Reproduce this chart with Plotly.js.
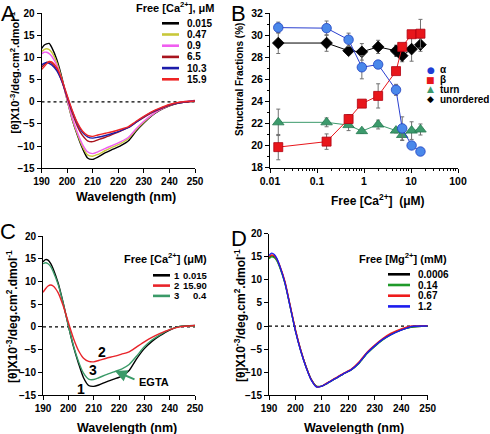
<!DOCTYPE html>
<html><head><meta charset="utf-8">
<script src="https://cdn.plot.ly/plotly-3.0.1.min.js"></script>
<style>html,body{margin:0;padding:0;background:#fff}#c{width:490px;height:434px}</style>
</head><body><div id="c"></div>
<script>
// ---------- DATA ----------
const wl = [190,191,192,193,194,196,198,200,202,204,206,208,210,212,215,218,221,224,227,230,233,236,240,244,250];

// Panel A: free [Ca2+] (uM)
const aLabels = ['0.015','0.47','0.9','6.5','10.3','15.9'];
const aCa0015 = [12.0,12.8,13.1,13.2,12.3,9.5,5.4,0.5,-4.0,-7.5,-10.5,-12.7,-13.0,-12.5,-11.5,-10.7,-9.9,-8.8,-6.6,-4.8,-3.2,-2.0,-0.9,-0.2,0.2];
const aCa047  = [11.3,11.8,12.0,11.8,11.2,8.8,5.0,0.4,-3.9,-7.3,-10.1,-12.0,-12.3,-11.9,-11.0,-10.2,-9.4,-8.3,-6.3,-4.6,-3.1,-1.9,-0.8,-0.1,0.3];
const aCa09   = [10.8,11.2,11.2,10.9,10.3,8.2,4.8,0.6,-3.6,-6.9,-9.6,-11.3,-11.7,-11.3,-10.5,-9.8,-9.0,-8.0,-6.1,-4.4,-3.0,-1.9,-0.8,-0.1,0.3];
const aCa65   = [7.8,8.4,8.9,9.0,8.7,7.3,4.6,1.0,-2.5,-5.5,-7.6,-8.8,-9.0,-8.6,-8.0,-7.3,-6.6,-5.8,-4.6,-3.5,-2.5,-1.7,-0.8,-0.2,0.2];
const aCa103  = [8.3,8.7,8.9,8.7,8.3,7.0,4.6,1.3,-2.1,-4.9,-6.9,-7.9,-8.2,-8.0,-7.6,-7.1,-6.5,-5.8,-4.6,-3.4,-2.4,-1.6,-0.7,-0.2,0.2];
const aCa159  = [7.3,7.9,8.6,9.1,9.0,7.7,5.0,1.5,-1.9,-4.7,-6.6,-7.6,-7.8,-7.5,-7.1,-6.7,-6.2,-5.6,-4.4,-3.3,-2.3,-1.5,-0.6,-0.1,0.2];

// Panel B: structural fractions (%)
const bConc = [0.015,0.16,0.47,0.9,2.0,4.8,6.5,10.3,15.9];
const bAlpha = [30.7,30.65,29.6,27.1,27.35,25.05,21.55,20.0,19.45];
const bAlphaErr = [0.5,0.65,0.6,1.05,0.2,0.5,1.05,0.2,0.2];
const bBeta = [19.85,20.35,22.4,23.8,24.5,26.75,28.95,30.1,30.15];
const bBetaErr = [1.15,0.7,0.4,0.3,1.1,0.2,0.2,0.2,1.3];
const bTurn = [22.1,22.1,21.85,21.3,21.9,21.35,20.95,21.35,21.45];
const bTurnErr = [1.2,0.4,0.5,0.2,0.4,0.2,0.5,0.8,0.5];
const bUnord = [29.3,29.3,28.6,28.5,28.95,28.6,28.15,28.75,29.15];
const bUnordErr = [0.95,0.75,0.2,0.75,0.6,0.5,0.55,1.1,0.6];
const bLegend = ['\u03b1','\u03b2','turn','unordered'];
const bTickVals = [0.01,0.1,1,10,100];
const bTickText = ['0.01','0.1','1','10','100'];

// Panel C
const cC1 = [14.3,14.8,14.7,14.0,12.8,9.6,5.2,0.3,-4.3,-8.0,-11.2,-12.9,-13.1,-12.8,-12.1,-11.5,-10.9,-9.6,-7.0,-4.8,-3.2,-2.0,-0.7,0.1,0.3];
const cC2 = [7.6,8.4,9.0,9.2,9.0,7.5,4.6,1.0,-2.5,-5.2,-6.9,-7.6,-7.7,-7.4,-6.9,-6.5,-6.0,-5.5,-4.4,-3.3,-2.3,-1.5,-0.6,0.0,0.3];
const cC3 = [13.9,14.1,13.9,13.3,12.2,9.3,5.1,0.3,-4.1,-7.6,-10.2,-11.5,-11.6,-11.2,-10.5,-9.9,-9.3,-8.3,-6.4,-4.4,-2.9,-1.8,-0.6,0.1,0.2];
const cIdx = ['1','2','3'];
const cVals = ['0.015','15.90','0.4'];

// Panel D: free [Mg2+] (mM)
const dLabels = ['0.0006','0.14','0.67','1.2'];
const dMg00006 = [14.8,15.2,15.0,14.3,13.0,9.5,4.3,-1.0,-5.3,-8.8,-11.6,-13.1,-13.0,-12.4,-11.4,-10.4,-9.5,-8.0,-5.9,-4.3,-2.9,-1.8,-0.8,-0.2,0.0];
const dMg014   = [14.6,15.0,14.8,14.1,12.8,9.3,4.2,-1.0,-5.3,-8.8,-11.6,-13.0,-13.0,-12.4,-11.4,-10.4,-9.5,-8.1,-6.0,-4.4,-3.0,-1.9,-0.8,-0.2,0.0];
const dMg067   = [15.0,15.4,15.2,14.5,13.2,9.7,4.5,-0.8,-5.2,-8.8,-11.6,-13.1,-13.0,-12.3,-11.3,-10.3,-9.4,-7.8,-5.7,-4.1,-2.7,-1.6,-0.6,0.0,0.1];
const dMg12    = [15.3,15.8,15.5,14.6,13.1,9.4,4.2,-1.1,-5.4,-8.9,-11.7,-13.2,-13.0,-12.4,-11.4,-10.4,-9.5,-8.0,-5.9,-4.3,-2.9,-1.9,-0.9,-0.1,0.0];

// ---------- STYLE ----------
const W = 490, H = 434;
const FF = '"Liberation Sans", Arial, sans-serif';
const px = (x) => x / W, py = (y) => 1 - y / H;
const aCols = ['#000000','#c8c83a','#f05ef0','#a8141e','#1c1caa','#ee2424'];
const cCols = ['#000000','#e8242a','#3a9a68'];
const dCols = ['#000000','#1f9a2a','#ee1c1c','#1c1cee'];

const traces = [];
const curve = (y, col, xa, ya) => ({x: wl, y: y, type: 'scatter', mode: 'lines', xaxis: xa, yaxis: ya,
  line: {color: col, width: 1.4, shape: 'spline', smoothing: 0.6}, hoverinfo: 'skip'});

[aCa0015, aCa047, aCa09, aCa65, aCa103, aCa159].forEach((s, i) => traces.push(curve(s, aCols[i], 'x', 'y')));

const bSeries = [
  {y: bTurn, e: bTurnErr, sym: 'triangle-up', fill: '#3c9a6c', ln: '#267a50', lc: '#3c9a6c', sz: 10},
  {y: bUnord, e: bUnordErr, sym: 'diamond', fill: '#000000', ln: '#000000', lc: '#000000', sz: 9},
  {y: bBeta, e: bBetaErr, sym: 'square', fill: '#e8161b', ln: '#b00010', lc: '#e8161b', sz: 9},
  {y: bAlpha, e: bAlphaErr, sym: 'circle', fill: '#4a88ea', ln: '#2040c0', lc: '#2a3fd0', sz: 9.5}
];
bSeries.forEach(s => traces.push({x: bConc, y: s.y, type: 'scatter', mode: 'lines+markers', xaxis: 'x2', yaxis: 'y2',
  line: {color: s.lc, width: 1}, marker: {symbol: s.sym, size: s.sz, color: s.fill, line: {color: s.ln, width: 0.8}},
  error_y: {type: 'data', array: s.e, visible: true, color: '#707070', thickness: 1, width: 2}, hoverinfo: 'skip', cliponaxis: false}));

[cC1, cC3, cC2].forEach((s, i) => traces.push(curve(s, [cCols[0], cCols[2], cCols[1]][i], 'x3', 'y3')));
[dMg00006, dMg014, dMg067, dMg12].forEach((s, i) => traces.push(curve(s, dCols[i], 'x4', 'y4')));

const tickfont = {family: FF, size: 10, color: '#000', weight: 'bold'};
const ax = (extra) => Object.assign({showline: true, linecolor: '#000', linewidth: 1, ticks: 'outside', ticklen: 4,
  tickwidth: 1, tickcolor: '#000', showgrid: false, zeroline: false, tickfont: tickfont, fixedrange: true}, extra);

const specX = {range: [190, 250], tickvals: [190,200,210,220,230,240,250]};
const specY = {range: [-15, 20], tickvals: [-15,-10,-5,0,5,10,15,20]};

const layout = {
  width: W, height: H, margin: {l: 0, r: 0, t: 0, b: 0}, showlegend: false,
  paper_bgcolor: '#fff', plot_bgcolor: 'rgba(0,0,0,0)', font: {family: FF, color: '#000'},
  xaxis: ax(Object.assign({domain: [px(41.5), px(195)], anchor: 'y'}, specX)),
  yaxis: ax(Object.assign({domain: [py(168.2), py(13.3)], anchor: 'x'}, specY)),
  xaxis2: ax({domain: [px(270), px(458)], anchor: 'y2', type: 'log', range: [-2, 2], tickvals: bTickVals, ticktext: bTickText,
    minor: {ticks: 'outside', ticklen: 2, tickcolor: '#000', dtick: 'D1'}, tickfont: Object.assign({}, tickfont, {size: 10.5})}),
  yaxis2: ax({domain: [py(167.5), py(13.3)], anchor: 'x2', range: [18, 32], dtick: 2,
    minor: {ticks: 'outside', ticklen: 2, tickcolor: '#000', dtick: 1}, tickfont: Object.assign({}, tickfont, {size: 10.5})}),
  xaxis3: ax(Object.assign({domain: [px(43), px(195)], anchor: 'y3'}, specX)),
  yaxis3: ax(Object.assign({domain: [py(395), py(236)], anchor: 'x3'}, specY)),
  xaxis4: ax(Object.assign({domain: [px(269), px(427.7)], anchor: 'y4'}, specX)),
  yaxis4: ax(Object.assign({domain: [py(395.3), py(233.7)], anchor: 'x4'}, specY)),
  shapes: [], annotations: []
};

// zero reference lines
[['x','y'],['x3','y3'],['x4','y4']].forEach(([xa, ya]) => layout.shapes.push({type: 'line', xref: xa + ' domain', yref: ya,
  x0: 0, x1: 1, y0: 0, y1: 0, line: {color: '#000', width: 1.2, dash: 'dot'}, layer: 'below'}));

const T = (text, x, y, size, o) => layout.annotations.push(Object.assign({text: text, xref: 'paper', yref: 'paper',
  x: px(x), y: py(y), xanchor: 'center', yanchor: 'middle', showarrow: false,
  font: {family: FF, size: size, color: '#000', weight: 'bold'}}, o || {}));
const big = (t, x, y) => T(t, x, y, 22, {font: {family: FF, size: 22, color: '#000', weight: 'normal'}});
const sample = (x0, x1, y, col) => layout.shapes.push({type: 'line', xref: 'paper', yref: 'paper',
  x0: px(x0), x1: px(x1), y0: py(y), y1: py(y), line: {color: col, width: 2.6}});

const yTitle = '[\u03b8]X10<sup>-3</sup>/deg.cm<sup>2</sup>.dmol<sup>-1</sup>';

// Panel letters
big('A', 8.5, 13.5); big('B', 238.5, 13.5); big('C', 8, 231); big('D', 238.5, 238.5);

// Panel A texts
T(yTitle, 14, 72.5, 11, {textangle: -90});
T('Wavelength (nm)', 126, 196.5, 12.5);
T('Free [Ca<sup>2+</sup>], \u03bcM', 175, 7, 11);
aLabels.forEach((l, i) => { const y = 23.3 + i * 11.2; sample(162, 179, y, aCols[i]);
  T(l, 185, y, 10, {xanchor: 'left'}); });

// Panel B texts
T('Structural Fractions (%)', 240, 80, 10, {textangle: -90});
T('Free [Ca<sup>2+</sup>]  (\u03bcM)', 378, 199.5, 12);
const bGlyph = ['\u25cf', '\u25a0', '\u25b2', '\u25c6'];
const bGlyphCol = ['#1f3fd6', '#e8161b', '#3c9a6c', '#000'];
bLegend.forEach((l, i) => { const y = 70 + i * 9.7;
  T(bGlyph[i], 430.5, y, 9, {font: {family: '"DejaVu Sans", sans-serif', size: 9, color: bGlyphCol[i]}});
  T(l, 438, y, 10, {xanchor: 'left'}); });

// Panel C texts
T(yTitle, 12, 317, 12, {textangle: -90});
T('Wavelength (nm)', 126.5, 427.5, 12.5);
T('Free [Ca<sup>2+</sup>] (\u03bcM)', 165.5, 257.7, 11);
cIdx.forEach((l, i) => { const y = 275.3 + i * 10.3; sample(153, 170, y, cCols[i]);
  T(l, 172, y, 9.5, {xanchor: 'left'}); T(cVals[i], 209, y, 9.5, {xanchor: 'right'}); });
T('2', 102, 352, 14); T('3', 93.3, 370.3, 14); T('1', 80.7, 388.7, 14);
T('EGTA', 153.5, 382, 11);
layout.annotations.push({text: '', xref: 'paper', yref: 'paper', x: px(115), y: py(371), showarrow: true,
  ax: 21, ay: 9, arrowhead: 2, arrowsize: 1.2, arrowwidth: 2, arrowcolor: '#3a9a68', standoff: 0});

// Panel D texts
T(yTitle, 240, 316, 12, {textangle: -90});
T('Wavelength (nm)', 353.5, 427.5, 12.5);
T('Free [Mg<sup>2+</sup>] (mM)', 403, 257.7, 11);
dLabels.forEach((l, i) => { const y = 274.3 + i * 10.7; sample(388, 410, y, dCols[i]);
  T(l, 415.7, y, 10, {xanchor: 'left'}); });

Plotly.newPlot('c', traces, layout, {staticPlot: true, displayModeBar: false});
</script></body></html>
